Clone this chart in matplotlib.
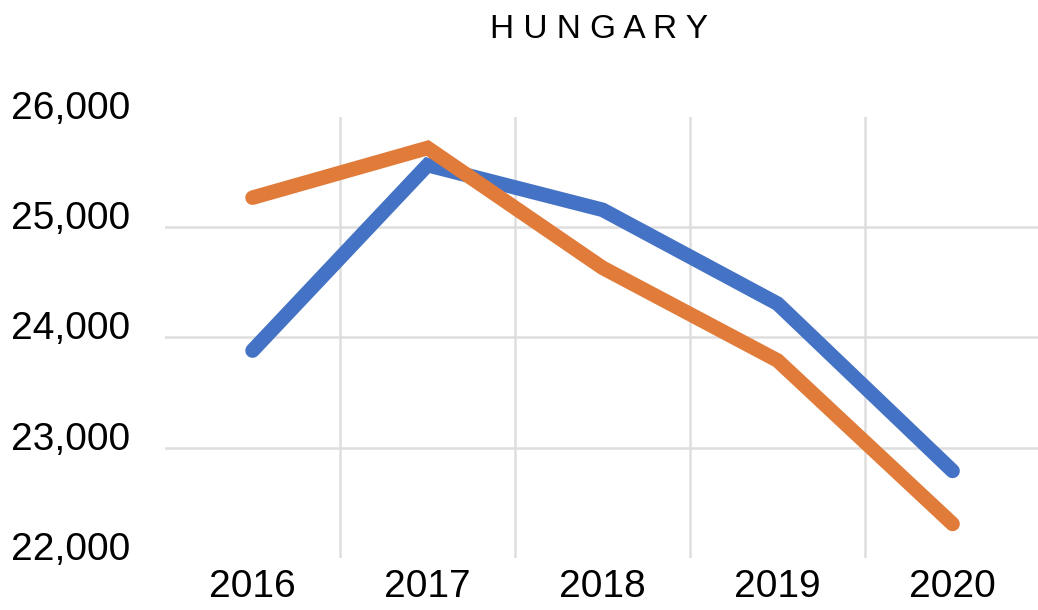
import numpy as np
import matplotlib.pyplot as plt
from matplotlib.ticker import FuncFormatter
from matplotlib.transforms import ScaledTranslation

years = ['2016', '2017', '2018', '2019', '2020']
series_blue = [23880, 25560, 25155, 24305, 22790]
series_orange = [25265, 25715, 24630, 23790, 22310]
y_ticks = [22000, 23000, 24000, 25000, 26000]

plt.rcParams['font.family'] = ['Liberation Sans', 'DejaVu Sans']

fig = plt.figure(figsize=(10.38, 6.10), dpi=100)
ax = fig.add_axes([0.159, 0.085, 0.843, 0.724])

x = np.arange(len(years))
ax.plot(x, series_blue, color='#4472C4', lw=10.5, solid_capstyle='round',
        solid_joinstyle='miter', zorder=3)
ax.plot(x, series_orange, color='#E07B39', lw=10.5, solid_capstyle='round',
        solid_joinstyle='miter', zorder=3)

ax.set_xlim(-0.5, len(years) - 0.5)
ax.set_ylim(y_ticks[0], y_ticks[-1])
ax.set_xticks(x)
ax.set_xticklabels(years)
ax.set_xticks(x[:-1] + 0.5, minor=True)
ax.set_yticks(y_ticks)
ax.yaxis.set_major_formatter(FuncFormatter(lambda v, p: f'{int(v):,}'))

ax.grid(True, axis='y', which='major', color='#dedede', lw=1.8, zorder=0)
ax.grid(True, axis='x', which='minor', color='#dedede', lw=1.8, zorder=0)
ax.grid(False, axis='x', which='major')
gl = ax.get_ygridlines()
gl[0].set_visible(False)
gl[-1].set_visible(False)

ax.tick_params(axis='both', which='both', length=0)
ax.tick_params(axis='y', labelsize=28, pad=25)
ax.tick_params(axis='x', labelsize=28, pad=8)
# labels sit a little above their gridlines in the original
shift = ScaledTranslation(0, 0.12, fig.dpi_scale_trans)
for lbl in ax.get_yticklabels():
    lbl.set_transform(lbl.get_transform() + shift)
for s in ax.spines.values():
    s.set_visible(False)

fig.text(0.577, 0.951, ' '.join('HUNGARY'), ha='center', va='center', fontsize=24)

fig.savefig('out.png', dpi=100)
